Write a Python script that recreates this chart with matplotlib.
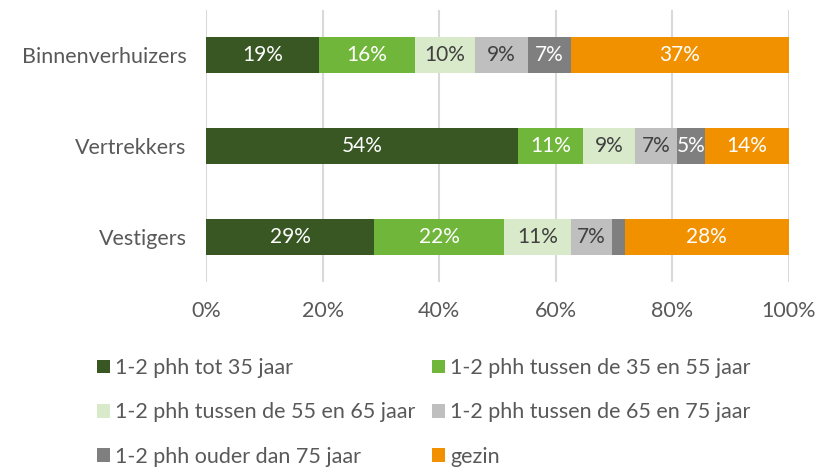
import matplotlib.pyplot as plt
from matplotlib.patches import Patch
import numpy as np

plt.rcParams['font.family'] = ['Lato', 'DejaVu Sans']

categories = ['Binnenverhuizers', 'Vertrekkers', 'Vestigers']
series_names = ['1-2 phh tot 35 jaar', '1-2 phh tussen de 35 en 55 jaar',
                '1-2 phh tussen de 55 en 65 jaar', '1-2 phh tussen de 65 en 75 jaar',
                '1-2 phh ouder dan 75 jaar', 'gezin']
# percentages per category, one list per series
tot35 = [19.4, 53.6, 28.9]
tussen35_55 = [16.4, 11.0, 22.3]
tussen55_65 = [10.4, 9.0, 11.4]
tussen65_75 = [9.0, 7.2, 7.1]
ouder75 = [7.4, 4.8, 2.1]
gezin = [37.4, 14.4, 28.2]
x_ticks = [0, 20, 40, 60, 80, 100]

series = [tot35, tussen35_55, tussen55_65, tussen65_75, ouder75, gezin]
colors = ['#385723', '#70B63A', '#D9EACB', '#BFBFBF', '#7F7F7F', '#F29100']
label_colors = ['white', 'white', '#404040', '#404040', 'white', 'white']
text_color = '#595959'

fig = plt.figure(figsize=(8.19, 4.68), dpi=100)
ax = fig.add_axes([206 / 819, 1 - 282 / 468, 583 / 819, 272 / 468])

ypos = np.arange(len(categories))
left = np.zeros(len(categories))
for vals, col, lcol in zip(series, colors, label_colors):
    vals = np.array(vals)
    ax.barh(ypos, vals, left=left, height=0.4, color=col, zorder=3)
    for y, v, l in zip(ypos, vals, left):
        if v >= 3:
            ax.text(l + v / 2, y, '%d%%' % round(v), ha='center', va='center',
                    color=lcol, fontsize=15, zorder=4)
    left += vals

ax.set_xlim(0, 100)
ax.set_ylim(len(categories) - 0.5, -0.5)
ax.set_yticks(ypos)
ax.set_yticklabels(categories, fontsize=15.5, color=text_color)
ax.set_xticks(x_ticks)
ax.set_xticklabels(['%d%%' % t for t in x_ticks], fontsize=15.5, color=text_color)
ax.tick_params(length=0, pad=14)
ax.tick_params(axis='x', pad=14)
ax.grid(axis='x', color='#D9D9D9', linewidth=1.5, zorder=0)
for s in ax.spines.values():
    s.set_visible(False)

# legend: two columns placed separately, filled row by row
handles = [Patch(facecolor=c) for c in colors]
for col, xpos in [(0, 97 / 819), (1, 432 / 819)]:
    idx = [col, col + 2, col + 4]
    leg = fig.legend([handles[i] for i in idx], [series_names[i] for i in idx],
                     loc='upper left', bbox_to_anchor=(xpos, 1 - 358 / 468),
                     frameon=False, fontsize=15.5, handlelength=0.6, handleheight=0.6,
                     handletextpad=0.25, labelspacing=1.13, borderpad=0, borderaxespad=0)
    for t in leg.get_texts():
        t.set_color(text_color)

fig.savefig('out.png', dpi=100)
